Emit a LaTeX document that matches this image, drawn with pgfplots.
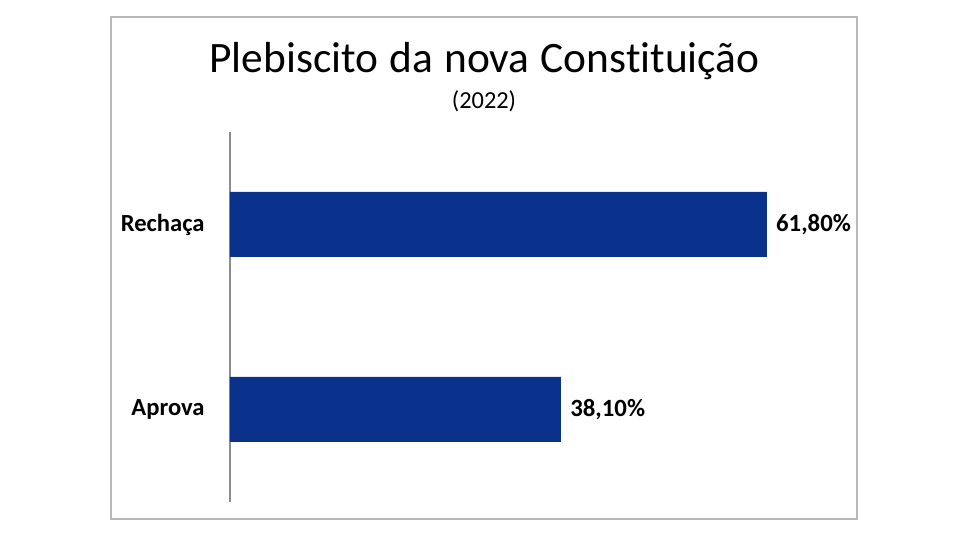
\documentclass[border=0pt]{standalone}
\usepackage{pgfplots}
\pgfplotsset{compat=1.18}
\usepackage{fontspec}
\setmainfont{Carlito}[Ligatures={NoCommon}]
\definecolor{barblue}{RGB}{10,49,140}
\begin{document}
\begin{tikzpicture}[x=0.5pt,y=0.5pt]
\path[use as bounding box] (0,0) rectangle (960,540);
\draw[color=black!28, line width=0.6pt] (111,21) rectangle (857,523);
\node[font={\fontsize{21.7}{24}\selectfont\spaceskip=5.6pt\relax}] at (484.5,479) {Plebiscito da nova Constituição};
\node[font=\fontsize{12.2}{14}\selectfont] at (484,439) {(2022)};
\begin{axis}[
  at={(115pt,19pt)}, anchor=south west,
  scale only axis, width=304pt, height=185pt,
  xbar, bar width=32.5pt,
  xmin=0, xmax=70, ymin=-0.5, ymax=1.5,
  axis x line=none,
  axis y line*=left,
  y axis line style={draw=black!45, line width=0.6pt, -},
  ytick={0,1}, yticklabels={Aprova,Rechaça},
  major tick length=0pt,
  yticklabel style={font=\bfseries\fontsize{12.3}{14}\selectfont, anchor=east, inner sep=0pt, xshift=-12.5pt},
  nodes near coords={\pgfmathprintnumber[fixed,fixed zerofill,precision=2,use comma,assume math mode=true]{\pgfplotspointmeta}\%},
  nodes near coords style={font=\bfseries\fontsize{12.4}{14}\selectfont, anchor=west, inner sep=0pt, xshift=4.5pt, black},
  point meta=x,
]
\addplot[fill=barblue, draw=none] coordinates {(38.1,0) (61.8,1)};
\end{axis}
\end{tikzpicture}
\end{document}
